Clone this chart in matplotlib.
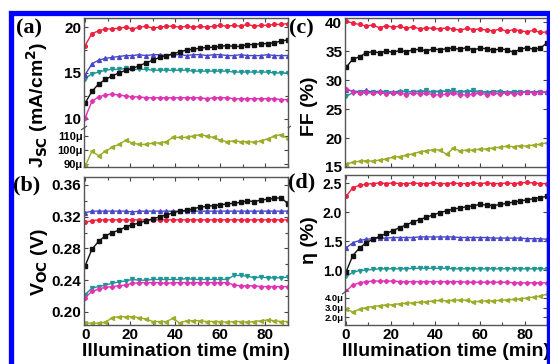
import numpy as np
import matplotlib.pyplot as plt
from matplotlib.patches import Rectangle
from matplotlib.ticker import MultipleLocator, FixedLocator

plt.rcParams['font.family'] = ['Liberation Sans', 'DejaVu Sans']
plt.rcParams['font.weight'] = 'bold'

# illumination time (min), one reading every 3 min
t = np.arange(0, 91, 3)

# (a) Jsc (mA/cm2); the olive cell is in uA/cm2 scale (lower broken part)
jsc_black = [11.7, 13.0, 13.8, 14.3, 14.7, 15.0, 15.3, 15.5, 15.8, 16.1, 16.4, 16.7, 16.9, 17.1, 17.3, 17.5,
             17.6, 17.7, 17.8, 17.8, 17.9, 18.0, 17.9, 17.9, 18.1, 18.1, 18.2, 18.2, 18.3, 18.5, 18.6]
jsc_red = [18.0, 19.3, 19.6, 19.8, 19.8, 19.9, 20.0, 19.8, 20.0, 20.1, 19.9, 20.0, 20.1, 20.1, 20.0, 20.1,
           20.0, 20.1, 20.0, 20.1, 20.2, 20.1, 20.2, 20.1, 20.3, 20.1, 20.2, 20.2, 20.3, 20.3, 20.4]
jsc_blue = [14.8, 16.0, 16.4, 16.6, 16.7, 16.8, 16.9, 16.9, 17.0, 16.9, 17.0, 17.0, 16.9, 17.0, 17.0, 16.9,
            17.0, 17.0, 16.9, 17.0, 17.0, 16.9, 16.9, 17.0, 16.9, 16.9, 16.9, 17.0, 16.9, 16.9, 16.9]
jsc_teal = [14.4, 14.9, 15.1, 15.3, 15.4, 15.4, 15.5, 15.4, 15.4, 15.4, 15.3, 15.3, 15.3, 15.3, 15.3, 15.3,
            15.2, 15.2, 15.2, 15.2, 15.2, 15.2, 15.1, 15.1, 15.1, 15.1, 15.1, 15.1, 15.0, 15.0, 15.0]
jsc_magenta = [10.1, 11.9, 12.4, 12.6, 12.7, 12.6, 12.5, 12.4, 12.4, 12.3, 12.3, 12.3, 12.3, 12.3, 12.3, 12.3,
               12.3, 12.3, 12.2, 12.3, 12.3, 12.3, 12.2, 12.2, 12.2, 12.2, 12.2, 12.2, 12.2, 12.1, 12.1]
jsc_olive_u = [88.5, 99, 96, 99, 102, 104, 107, 105, 104, 104, 105, 105, 106, 109, 109, 109,
               110, 111, 110, 109, 107, 106, 106.5, 106, 106, 105.5, 106.5, 108, 110, 111, 108]

# (b) Voc (V)
voc_black = [0.258, 0.279, 0.289, 0.296, 0.300, 0.303, 0.307, 0.310, 0.312, 0.315, 0.317, 0.320, 0.322, 0.325,
             0.327, 0.328, 0.330, 0.332, 0.333, 0.334, 0.335, 0.336, 0.337, 0.338, 0.340, 0.339, 0.341, 0.342,
             0.343, 0.344, 0.336]
voc_red = [0.313, 0.315, 0.316, 0.316, 0.316, 0.316, 0.316, 0.316, 0.316, 0.316, 0.316, 0.316, 0.316, 0.316,
           0.316, 0.316, 0.316, 0.316, 0.316, 0.316, 0.316, 0.316, 0.316, 0.316, 0.316, 0.316, 0.316, 0.316,
           0.316, 0.316, 0.316]
voc_blue = [0.325, 0.327, 0.327, 0.327, 0.327, 0.327, 0.327, 0.326, 0.327, 0.327, 0.327, 0.327, 0.327, 0.327,
            0.327, 0.327, 0.327, 0.327, 0.327, 0.327, 0.327, 0.327, 0.327, 0.327, 0.327, 0.327, 0.327, 0.327,
            0.327, 0.327, 0.327]
voc_teal = [0.222, 0.230, 0.232, 0.234, 0.236, 0.238, 0.239, 0.241, 0.240, 0.240, 0.241, 0.241, 0.241, 0.241,
            0.241, 0.242, 0.241, 0.241, 0.241, 0.241, 0.241, 0.241, 0.246, 0.246, 0.245, 0.243, 0.244, 0.243,
            0.243, 0.243, 0.244]
voc_magenta = [0.218, 0.226, 0.229, 0.231, 0.232, 0.233, 0.234, 0.236, 0.237, 0.237, 0.237, 0.237, 0.236, 0.237,
               0.237, 0.237, 0.237, 0.237, 0.237, 0.237, 0.237, 0.237, 0.234, 0.233, 0.233, 0.233, 0.232, 0.232,
               0.232, 0.232, 0.232]
voc_olive = [0.186, 0.186, 0.186, 0.187, 0.193, 0.194, 0.194, 0.194, 0.193, 0.191, 0.188, 0.188, 0.188, 0.192,
             0.186, 0.189, 0.189, 0.189, 0.188, 0.188, 0.188, 0.187, 0.188, 0.188, 0.187, 0.188, 0.189, 0.190,
             0.189, 0.188, 0.188]

# (c) FF (%)
ff_red = [40.2, 39.8, 39.6, 39.3, 39.5, 39.0, 39.4, 39.1, 39.3, 38.9, 39.2, 38.8, 39.0, 38.9, 38.8, 39.0,
          38.8, 38.6, 38.9, 38.7, 38.8, 38.6, 38.5, 38.8, 38.4, 38.7, 38.5, 38.3, 38.6, 38.2, 38.3]
ff_black = [32.2, 33.6, 34.0, 34.7, 34.9, 34.7, 35.0, 34.8, 35.1, 34.9, 35.2, 35.3, 35.0, 35.4, 35.2, 35.4,
            35.5, 35.3, 35.6, 35.2, 35.5, 35.4, 35.1, 35.4, 35.2, 34.8, 35.3, 35.6, 35.3, 35.5, 36.4]
ff_blue = [28.3, 28.1, 28.0, 28.2, 27.9, 28.1, 28.0, 27.9, 28.1, 28.0, 28.0, 28.1, 27.9, 28.0, 28.1, 28.0,
           27.9, 28.0, 28.1, 28.0, 27.9, 28.0, 28.0, 28.1, 27.9, 28.0, 28.0, 27.9, 28.0, 28.0, 27.9]
ff_teal = [27.2, 27.8, 27.9, 27.7, 27.9, 27.8, 28.0, 27.8, 27.9, 28.1, 27.9, 28.0, 28.2, 27.9, 28.0, 28.1,
           28.2, 27.9, 28.0, 28.2, 28.0, 27.8, 27.9, 28.0, 27.8, 27.9, 28.0, 27.9, 27.8, 27.9, 27.8]
ff_magenta = [28.5, 28.0, 27.8, 28.0, 27.7, 27.9, 27.6, 27.8, 27.7, 27.5, 27.8, 27.6, 27.7, 27.5, 27.4, 27.6,
              27.7, 27.5, 27.4, 27.6, 27.7, 27.5, 27.7, 27.6, 27.8, 27.6, 27.7, 28.0, 27.8, 27.9, 27.9]
ff_olive = [15.5, 15.8, 16.0, 16.1, 16.0, 16.2, 16.4, 16.7, 16.8, 17.0, 17.3, 17.6, 17.8, 18.0, 17.9, 17.2,
            18.2, 17.8, 17.9, 17.9, 18.1, 18.1, 18.3, 18.4, 18.6, 18.5, 18.7, 18.6, 18.8, 18.9, 19.2]

# (d) efficiency (%); olive cell in micro-% (lower broken part)
eta_black = [0.97, 1.25, 1.38, 1.47, 1.53, 1.58, 1.63, 1.68, 1.73, 1.78, 1.83, 1.87, 1.91, 1.95, 1.99, 2.02,
             2.05, 2.07, 2.09, 2.11, 2.13, 2.12, 2.11, 2.13, 2.15, 2.17, 2.19, 2.21, 2.23, 2.25, 2.27]
eta_red = [2.27, 2.42, 2.46, 2.48, 2.49, 2.50, 2.49, 2.50, 2.49, 2.49, 2.50, 2.49, 2.49, 2.50, 2.49, 2.49,
           2.50, 2.49, 2.49, 2.50, 2.49, 2.50, 2.49, 2.49, 2.50, 2.49, 2.50, 2.51, 2.50, 2.49, 2.49]
eta_blue = [1.38, 1.47, 1.51, 1.53, 1.54, 1.55, 1.55, 1.56, 1.56, 1.56, 1.56, 1.57, 1.57, 1.57, 1.57, 1.57,
            1.57, 1.56, 1.56, 1.56, 1.56, 1.56, 1.55, 1.55, 1.55, 1.55, 1.55, 1.54, 1.54, 1.54, 1.53]
eta_teal = [0.89, 0.96, 0.99, 1.00, 1.01, 1.02, 1.02, 1.02, 1.02, 1.02, 1.03, 1.03, 1.03, 1.03, 1.03, 1.03,
            1.02, 1.02, 1.02, 1.02, 1.02, 1.02, 1.02, 1.02, 1.02, 1.02, 1.02, 1.02, 1.02, 1.02, 1.02]
eta_magenta = [0.64, 0.74, 0.78, 0.80, 0.81, 0.81, 0.81, 0.81, 0.80, 0.80, 0.80, 0.80, 0.80, 0.80, 0.80, 0.80,
               0.80, 0.80, 0.79, 0.79, 0.79, 0.79, 0.79, 0.79, 0.79, 0.78, 0.78, 0.78, 0.78, 0.78, 0.78]
eta_olive_u = [2.8, 2.55, 2.8, 3.0, 3.1, 3.2, 3.25, 3.3, 3.4, 3.45, 3.5, 3.55, 3.6, 3.7, 3.75, 3.7,
               3.75, 3.8, 3.75, 3.6, 3.65, 3.7, 3.7, 3.75, 3.8, 3.85, 3.9, 4.0, 4.1, 4.2, 4.4]

# colour / marker per cell
STY = {
    'black': ('#111111', 's', 2.6),
    'red': ('#ee2240', 'o', 2.6),
    'blue': ('#4848c8', '^', 2.8),
    'teal': ('#1f9696', 'v', 2.8),
    'magenta': ('#e034b4', 'D', 2.2),
    'olive': ('#9aac28', '<', 2.8),
}

W, H = 550, 364
fig = plt.figure(figsize=(W / 100, H / 100), dpi=100)


def box(x0, y0, x1, y1):
    # pixel box (top-left origin) -> figure rect
    return [x0 / W, 1 - y1 / H, (x1 - x0) / W, (y1 - y0) / H]


def draw(ax, y, name):
    c, m, ms = STY[name]
    ax.plot(t, y, color=c, marker=m, ms=ms, lw=1.0, mec=c, mfc=c, clip_on=True)


def style(ax, top=True, bottom=True):
    ax.set_xlim(-0.5, 90)
    ax.xaxis.set_major_locator(MultipleLocator(20))
    ax.xaxis.set_minor_locator(MultipleLocator(10))
    ax.tick_params(which='both', direction='in', top=top, bottom=bottom, left=True, right=True,
                   width=0.8, color='#444444', labelsize=11, pad=2)
    ax.tick_params(which='major', length=3)
    ax.tick_params(which='minor', length=2)
    for s in ax.spines.values():
        s.set_color('#555555')
        s.set_linewidth(1.0)
    if not top:
        ax.spines['top'].set_visible(False)
    if not bottom:
        ax.spines['bottom'].set_visible(False)
    for lab in ax.get_xticklabels() + ax.get_yticklabels():
        lab.set_fontweight('bold')


def breakmarks(ax):
    for xx in (0, 1):
        ax.plot([xx - 0.012, xx + 0.012], [-0.015, 0.015], transform=ax.transAxes, color='#555555',
                lw=0.9, clip_on=False)


# ---- (a) broken Jsc axis
a_top = fig.add_axes(box(84, 18, 288, 128))
a_bot = fig.add_axes(box(84, 128, 288, 167))
for y, n in [(jsc_teal, 'teal'), (jsc_magenta, 'magenta'), (jsc_blue, 'blue'), (jsc_red, 'red'),
             (jsc_black, 'black')]:
    draw(a_top, y, n)
draw(a_bot, jsc_olive_u, 'olive')
a_top.set_ylim(9.0, 21.0)
a_top.yaxis.set_major_locator(FixedLocator([10, 15, 20]))
a_top.yaxis.set_minor_locator(MultipleLocator(2.5))
a_bot.set_ylim(87.9, 115.7)
a_bot.yaxis.set_major_locator(FixedLocator([90, 100, 110]))
style(a_top, top=True, bottom=False)
style(a_bot, top=False, bottom=True)
a_top.set_xticklabels([])
a_bot.set_xticklabels([])
a_bot.set_yticklabels(['90\u03bc', '100\u03bc', '110\u03bc'], fontsize=8, fontweight='bold')
a_bot.tick_params(axis='y', pad=1)
breakmarks(a_top)

# ---- (b) Voc
b = fig.add_axes(box(84, 177, 288, 325))
for y, n in [(voc_teal, 'teal'), (voc_magenta, 'magenta'), (voc_olive, 'olive'), (voc_blue, 'blue'),
             (voc_red, 'red'), (voc_black, 'black')]:
    draw(b, y, n)
b.set_ylim(0.1836, 0.370)
b.yaxis.set_major_locator(FixedLocator([0.20, 0.24, 0.28, 0.32, 0.36]))
b.yaxis.set_minor_locator(MultipleLocator(0.02))
b.yaxis.set_major_formatter(plt.FormatStrFormatter('%.2f'))
style(b)
b.set_xlabel('Illumination time (min)', fontsize=14, fontweight='bold', labelpad=1)

# ---- (c) FF
c = fig.add_axes(box(345, 18, 547, 167))
for y, n in [(ff_blue, 'blue'), (ff_teal, 'teal'), (ff_magenta, 'magenta'), (ff_olive, 'olive'),
             (ff_red, 'red'), (ff_black, 'black')]:
    draw(c, y, n)
c.set_ylim(15, 40.7)
c.yaxis.set_major_locator(MultipleLocator(5))
style(c)
c.set_xticklabels([])

# ---- (d) broken efficiency axis
d_top = fig.add_axes(box(345, 175, 547, 292))
d_bot = fig.add_axes(box(345, 292, 547, 325))
for y, n in [(eta_teal, 'teal'), (eta_magenta, 'magenta'), (eta_blue, 'blue'), (eta_red, 'red'),
             (eta_black, 'black')]:
    draw(d_top, y, n)
draw(d_bot, eta_olive_u, 'olive')
d_top.set_ylim(0.621, 2.638)
d_top.yaxis.set_major_locator(FixedLocator([1.0, 1.5, 2.0, 2.5]))
d_top.yaxis.set_major_formatter(plt.FormatStrFormatter('%.1f'))
d_bot.set_ylim(1.16, 4.63)
d_bot.yaxis.set_major_locator(FixedLocator([2, 3, 4]))
style(d_top, top=True, bottom=False)
style(d_bot, top=False, bottom=True)
d_top.set_xticklabels([])
d_top.tick_params(axis='y', labelsize=10)
d_bot.set_yticklabels(['2.0\u03bc', '3.0\u03bc', '4.0\u03bc'], fontsize=6.8, fontweight='bold')
d_bot.tick_params(axis='y', pad=1)
d_bot.set_xlabel('Illumination time (min)', fontsize=14, fontweight='bold', labelpad=1)
breakmarks(d_top)

# y labels and panel tags
fig.text(37 / W, 1 - 105 / H, r'J$_{\mathbf{SC}}$ (mA/cm$^{\mathbf{2}}$)', rotation=90, ha='center', va='center',
         fontsize=14, fontweight='bold')
fig.text(39 / W, 1 - 262 / H, r'V$_{\mathbf{OC}}$ (V)', rotation=90, ha='center', va='center',
         fontsize=14, fontweight='bold')
fig.text(310 / W, 1 - 106 / H, 'FF (%)', rotation=90, ha='center', va='center', fontsize=14, fontweight='bold')
fig.text(310 / W, 1 - 240 / H, '\u03b7 (%)', rotation=90, ha='center', va='center', fontsize=14,
         fontweight='bold')
for txt, px, py in [('(a)', 29, 28), ('(b)', 27, 185), ('(c)', 301, 28), ('(d)', 302, 182)]:
    fig.text(px / W, 1 - py / H, txt, ha='center', va='center', fontsize=16, fontweight='bold',
             family='Liberation Serif')

# blue frame around the figure
fig.patches.append(Rectangle((10.5 / W, -0.2), 538.5 / W, 1.2 - 12.5 / H, transform=fig.transFigure,
                             fill=False, edgecolor='#0000ff', linewidth=3.8, zorder=10))

fig.savefig('out.png', dpi=100)
